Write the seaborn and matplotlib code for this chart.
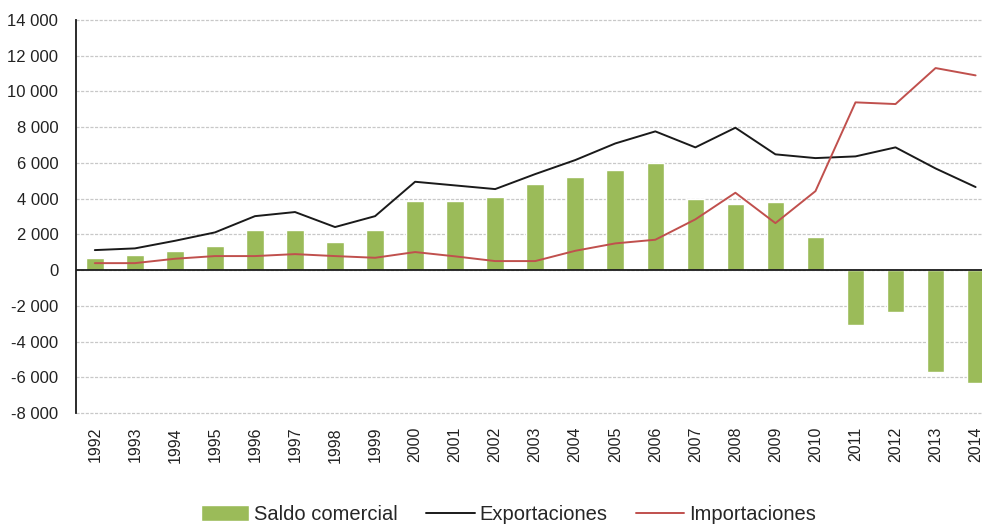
import seaborn as sns
import numpy as np
import pandas as pd
import matplotlib.pyplot as plt

sns.set_theme(style="white")
plt.rcParams['font.family'] = ['Liberation Sans', 'DejaVu Sans']

# Data
years = [str(y) for y in range(1992, 2015)]
saldo = [650, 840, 1070, 1350, 2260, 2260, 1550, 2260, 3880, 3880, 4090,
         4800, 5190, 5600, 5990, 3975, 3680, 3790, 1850,
         -3100, -2370, -5730, -6310]
exportaciones = [1120, 1215, 1640, 2110, 3020, 3250, 2410, 3020, 4945, 4740,
                 4535, 5375, 6160, 7090, 7765, 6870, 7970, 6480, 6270, 6365,
                 6870, 5690, 4650]
importaciones = [390, 390, 635, 785, 785, 895, 785, 690, 1010, 770, 505, 505,
                 1080, 1495, 1700, 2840, 4330, 2630, 4420, 9390, 9295, 11310,
                 10900]
yticks = list(range(-8000, 14001, 2000))
ytick_labels = ["-8 000", "-6 000", "-4 000", "-2 000", "0", "2 000", "4 000",
                "6 000", "8 000", "10 000", "12 000", "14 000"]

df = pd.DataFrame({"year": years, "pos": np.arange(len(years)),
                   "saldo": saldo, "exp": exportaciones, "imp": importaciones})

fig = plt.figure(figsize=(9.82, 5.25), dpi=100)
ax = fig.add_axes([0.077, 0.2133, 0.923, 0.7486])

# dashed grid lines
for t in yticks:
    ax.axhline(t, color="#c8c8c8", lw=0.9, ls=(0, (2.5, 1.2)), zorder=0,
               clip_on=False)

sns.barplot(data=df, x="year", y="saldo", color="#9BBB59", saturation=1,
            width=0.44, ax=ax, zorder=2, label="Saldo comercial")
sns.lineplot(data=df, x="pos", y="exp", color="#1a1a1a", lw=1.4, ax=ax,
             zorder=3, label="Exportaciones")
sns.lineplot(data=df, x="pos", y="imp", color="#C0504D", lw=1.4, ax=ax,
             zorder=3, label="Importaciones")

ax.axhline(0, color="#1a1a1a", lw=1.3, zorder=4)

ax.set_xlim(-0.48, 22.16)
ax.set_ylim(-8000, 14000)
ax.set_yticks(yticks)
ax.set_yticklabels(ytick_labels)
ax.set_xticks(np.arange(len(years)))
ax.set_xticklabels(years, rotation=90)
ax.tick_params(axis="y", length=0, pad=12.5, labelsize=12, colors="#222222")
ax.tick_params(axis="x", length=0, pad=10, labelsize=11.5, colors="#222222")
ax.set_xlabel("")
ax.set_ylabel("")

for s in ["top", "right", "bottom"]:
    ax.spines[s].set_visible(False)
ax.spines["left"].set_color("#1a1a1a")
ax.spines["left"].set_linewidth(1.3)

handles, labels = ax.get_legend_handles_labels()
if ax.legend_:
    ax.legend_.remove()
order = [labels.index(n) for n in ["Saldo comercial", "Exportaciones", "Importaciones"]]
fig.legend([handles[i] for i in order], [labels[i] for i in order],
           loc="center", bbox_to_anchor=(0.518, 0.02),
           ncol=3, frameon=False, fontsize=14.5, handlelength=2.4,
           handletextpad=0.25, columnspacing=1.4, handleheight=0.85)

fig.savefig("out.png", dpi=100)
